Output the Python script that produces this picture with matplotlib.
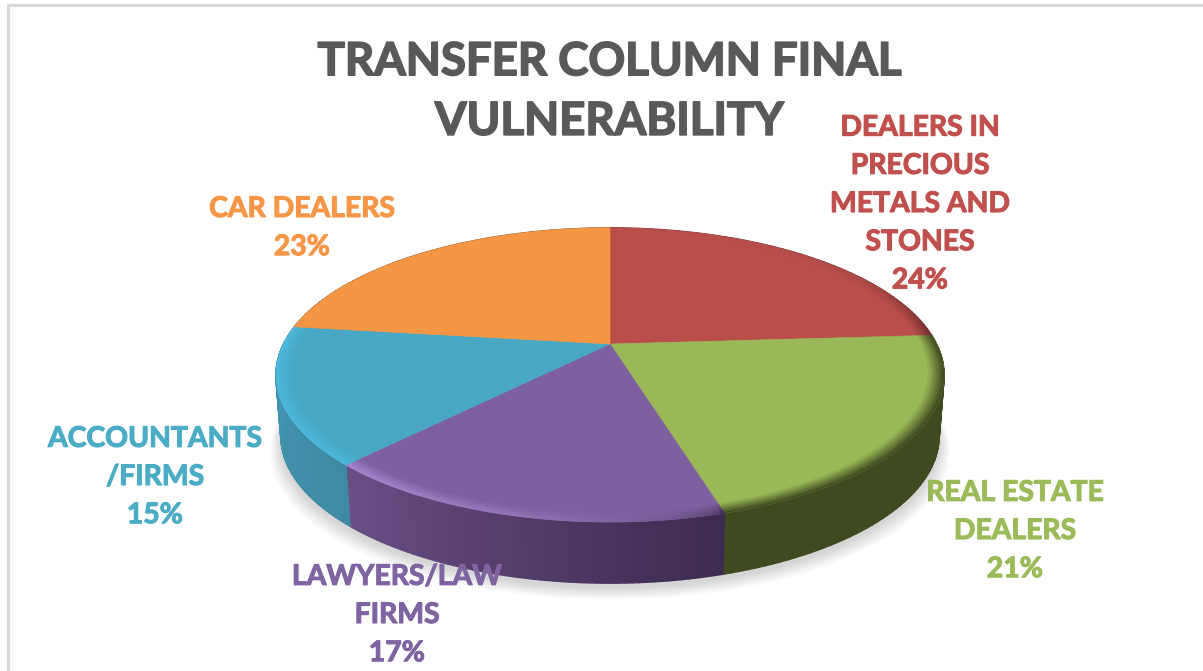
'''
Pie chart drawn as a tilted disc, slices come from the shares below.
'''
import matplotlib
matplotlib.use('Agg')
import matplotlib.patheffects as pe
import matplotlib.pyplot as plt
from matplotlib.collections import PolyCollection
from matplotlib.colors import to_rgb
import numpy as np

title = 'TRANSFER COLUMN FINAL\nVULNERABILITY'
categories = ['DEALERS IN\nPRECIOUS\nMETALS AND\nSTONES', 'REAL ESTATE\nDEALERS', 'LAWYERS/LAW\nFIRMS',
              'ACCOUNTANTS\n/FIRMS', 'CAR DEALERS']
shares = [24.0, 21.49, 16.51, 15.0, 23.0]

top_colors = ['#b94e4b', '#9ab857', '#7e60a0', '#48a8c4', '#f59644']
text_colors = ['#c0504d', '#9bbb59', '#8064a2', '#4bacc6', '#f79646']
side_start = ['#6e2e2c', '#3f4a20', '#3c2b50', '#3f8aa3', '#94592a']
side_end = ['#6e2e2c', '#3f4a20', '#6a4f85', '#4498b4', '#94592a']
edge_start = ['#b94e4b', '#3f4a20', '#3c2b50', '#4db9dc', '#f59644']
edge_end = ['#6e2e2c', '#3f4a20', '#a98ad2', '#4db9dc', '#f59644']
edge_power = [4, 1, 0.35, 1, 1]
label_x = [920, 1015, 397, 155, 302]
label_y = [204, 531, 615, 477, 228]

# projection of the unit disc to pixels
CX, CY = 610, 344
C, B, S = 0.211, -67.9, 326.5
DEPTH = 61


def project(theta, r=1.0, depth=0.0, k=1.0):
    u = r * np.sin(theta)
    v = r * np.cos(theta)
    w = 1 + C * v
    return CX + S * k * u / w, (CY + B * v) / w + depth


def mix(a, b, t):
    a, b = np.array(to_rgb(a)), np.array(to_rgb(b))
    return a + (b - a) * t


fig = plt.figure(figsize=(12.03, 6.71), dpi=100)
ax = fig.add_axes([0, 0, 1, 1])
ax.set_xlim(0, 1203)
ax.set_ylim(671, 0)
ax.axis('off')

# frame, only top and left show
ax.plot([8, 8, 1203], [671, 5, 5], color='#d9d9d9', lw=2.2, solid_joinstyle='miter')

# soft shadow
circle = np.linspace(0, 2 * np.pi, 300)
for i in range(14):
    x, y = project(circle, depth=DEPTH + 5, k=0.985 + i * 0.0025)
    y = y + i * 0.9
    ax.fill(x, y, color='black', alpha=0.012, lw=0, zorder=1)

bounds = 2 * np.pi * np.cumsum([0] + shares) / sum(shares)

for i in range(len(shares)):
    angles = np.linspace(bounds[i], bounds[i + 1], 60)

    # side wall
    x1, y1 = project(angles)
    x2, y2 = project(angles, depth=DEPTH, k=0.985)
    verts, colors = [], []
    for j in range(len(angles) - 1):
        verts.append([(x1[j], y1[j]), (x1[j + 1], y1[j + 1]), (x2[j + 1], y2[j + 1]), (x2[j], y2[j])])
        colors.append(mix(side_start[i], side_end[i], j / (len(angles) - 2)))
    ax.add_collection(PolyCollection(verts, facecolors=colors, edgecolors=colors, linewidths=1.2, zorder=2))

for i in range(len(shares)):
    angles = np.linspace(bounds[i], bounds[i + 1], 120)

    # flat top
    x, y = project(angles)
    ax.fill(np.r_[CX, x], np.r_[CY, y], color=top_colors[i], lw=0.4, zorder=3)

    # bevel along the rim
    radii = np.linspace(1.0, 0.955, 9)
    verts, colors = [], []
    for n in range(len(radii) - 1):
        xa, ya = project(angles, r=radii[n])
        xb, yb = project(angles, r=radii[n + 1])
        fade = 1 - n / (len(radii) - 1)
        for j in range(len(angles) - 1):
            t = j / (len(angles) - 2)
            edge = mix(edge_start[i], edge_end[i], t ** edge_power[i])
            verts.append([(xa[j], ya[j]), (xa[j + 1], ya[j + 1]), (xb[j + 1], yb[j + 1]), (xb[j], yb[j])])
            colors.append(np.array(to_rgb(top_colors[i])) * (1 - fade) + edge * fade)
    ax.add_collection(PolyCollection(verts, facecolors=colors, edgecolors=colors, linewidths=0.3, zorder=4))

ax.text(609, 92, title, ha='center', va='center', fontsize=32.8, fontweight='bold', family='Lato',
        color='#595959', linespacing=1.52, zorder=6,
        path_effects=[pe.withStroke(linewidth=1.2, foreground='#595959')])

for i in range(len(shares)):
    label = f'{categories[i]}\n{round(shares[i])}%'
    ax.text(label_x[i], label_y[i], label, ha='center', va='center', fontsize=20.4, fontweight='bold',
            family='Lato', color=text_colors[i], linespacing=1.58, zorder=6,
            path_effects=[pe.withStroke(linewidth=0.8, foreground=text_colors[i])])

plt.savefig('out.png', dpi=100)
